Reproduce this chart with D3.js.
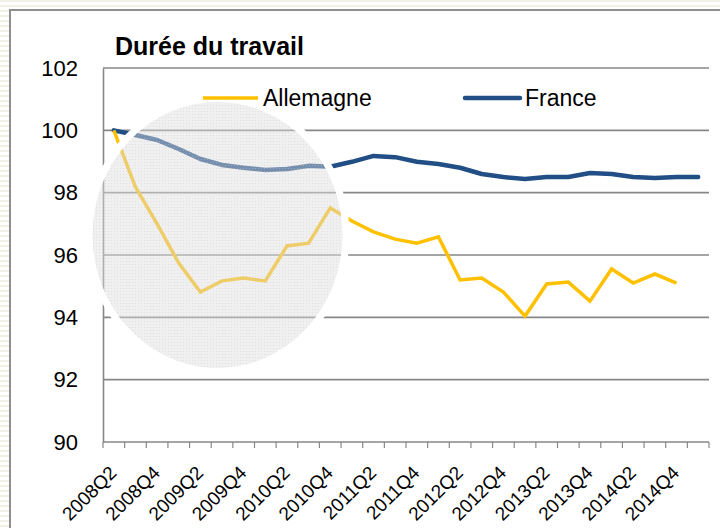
<!DOCTYPE html>
<html>
<head>
<meta charset="utf-8">
<script src="https://cdn.jsdelivr.net/npm/d3@7"></script>
<style>
  body { margin: 0; background: #fff; }
  svg { display: block; font-family: "Liberation Sans", Arial, sans-serif; }
</style>
</head>
<body>
<svg id="chart" width="720" height="528"></svg>
<script>
const quarters = [
  '2008Q2', '2008Q3', '2008Q4', '2009Q1', '2009Q2', '2009Q3', '2009Q4',
  '2010Q1', '2010Q2', '2010Q3', '2010Q4', '2011Q1', '2011Q2', '2011Q3',
  '2011Q4', '2012Q1', '2012Q2', '2012Q3', '2012Q4', '2013Q1', '2013Q2',
  '2013Q3', '2013Q4', '2014Q1', '2014Q2', '2014Q3', '2014Q4', '2015Q1'
];
const labelQuarters = [
  '2008Q2', '2008Q4', '2009Q2', '2009Q4', '2010Q2', '2010Q4', '2011Q2',
  '2011Q4', '2012Q2', '2012Q4', '2013Q2', '2013Q4', '2014Q2', '2014Q4'
];
const allemagne = [
  100, 98.18, 97.0, 95.74, 94.81, 95.17, 95.26, 95.17, 96.29, 96.38,
  97.51, 97.09, 96.74, 96.51, 96.38, 96.58, 95.2, 95.26, 94.81, 94.04,
  95.07, 95.13, 94.52, 95.55, 95.1, 95.39, 95.1
];
const france = [
  100, 99.85, 99.69, 99.4, 99.08, 98.89, 98.8, 98.73, 98.76, 98.86,
  98.83, 98.99, 99.18, 99.14, 98.99, 98.92, 98.8, 98.6, 98.5, 98.44,
  98.5, 98.5, 98.63, 98.6, 98.5, 98.47, 98.5, 98.5
];
const yTicks = [90, 92, 94, 96, 98, 100, 102];

const svg = d3.select('#chart');
const GREY = '#878787';
const YELLOW = '#ffc000';
const BLUE = '#224e86';

// striped backdrop outside the chart frame
const defs = svg.append('defs');
const stripes = defs.append('pattern')
  .attr('id', 'stripes').attr('patternUnits', 'userSpaceOnUse')
  .attr('width', 10).attr('height', 5);
stripes.append('rect').attr('width', 10).attr('height', 5).attr('fill', '#fff');
stripes.append('rect').attr('width', 10).attr('height', 2).attr('fill', '#f0f0e4');
svg.append('rect').attr('width', 720).attr('height', 528).attr('fill', 'url(#stripes)');

svg.append('rect')
  .attr('x', 10).attr('y', 10).attr('width', 720).attr('height', 530)
  .attr('fill', '#fff').attr('stroke', '#8f8f8f').attr('stroke-width', 2);

const x = d3.scaleBand().domain(quarters).range([103, 709]);
const y = d3.scaleLinear().domain([90, 102]).range([442, 68]);
const cx = q => x(q) + x.bandwidth() / 2;

// gridlines
svg.append('g')
  .selectAll('line').data(yTicks.filter(d => d > 90)).join('line')
  .attr('x1', 103).attr('x2', 709)
  .attr('y1', d => y(d)).attr('y2', d => y(d))
  .attr('stroke', GREY).attr('stroke-width', 1.6);

// y axis
const yAxis = svg.append('g')
  .attr('transform', 'translate(103,0)')
  .call(d3.axisLeft(y).tickValues(yTicks).tickSize(0).tickPadding(25));
yAxis.select('.domain').attr('stroke', GREY).attr('stroke-width', 1.6);
yAxis.selectAll('text').attr('font-size', 22).attr('fill', '#000')
  .attr('font-family', '"Liberation Sans", Arial, sans-serif');

// x axis with ticks at band edges
svg.append('line')
  .attr('x1', 103).attr('x2', 709).attr('y1', 442).attr('y2', 442)
  .attr('stroke', GREY).attr('stroke-width', 1.6);
const edges = quarters.map(q => x(q)).concat([x.range()[1]]);
svg.append('g').selectAll('line').data(edges).join('line')
  .attr('x1', d => d).attr('x2', d => d)
  .attr('y1', 442).attr('y2', 448)
  .attr('stroke', GREY).attr('stroke-width', 1.2);

svg.append('g').selectAll('text').data(labelQuarters).join('text')
  .attr('transform', q => `translate(${cx(q) + 4},${474}) rotate(-45)`)
  .attr('text-anchor', 'end')
  .attr('font-size', 19)
  .text(q => q);

// series
const line = d3.line()
  .x((d, i) => cx(quarters[i]))
  .y(d => y(d));

svg.append('path').datum(france)
  .attr('d', line).attr('fill', 'none')
  .attr('stroke', BLUE).attr('stroke-width', 4.5)
  .attr('stroke-linejoin', 'round').attr('stroke-linecap', 'round');

svg.append('path').datum(allemagne)
  .attr('d', line).attr('fill', 'none')
  .attr('stroke', YELLOW).attr('stroke-width', 3.5)
  .attr('stroke-linejoin', 'miter');

// lens overlay
const dots = defs.append('pattern')
  .attr('id', 'dots').attr('patternUnits', 'userSpaceOnUse')
  .attr('width', 3).attr('height', 3);
dots.append('rect').attr('width', 3).attr('height', 3).attr('fill', 'rgba(222,222,222,0.45)');
dots.append('rect').attr('width', 1).attr('height', 1).attr('fill', 'rgba(200,200,200,0.4)');
svg.append('ellipse')
  .attr('cx', 217.5).attr('cy', 235).attr('rx', 128.5).attr('ry', 136.5)
  .attr('fill', 'url(#dots)')
  .attr('stroke', '#fff').attr('stroke-width', 7);

// title
svg.append('text')
  .attr('x', 115).attr('y', 55)
  .attr('font-size', 25).attr('font-weight', 'bold')
  .text('Durée du travail');

// legend
const legend = [
  { name: 'Allemagne', color: YELLOW, x: 203, w: 3.5 },
  { name: 'France', color: BLUE, x: 465, w: 4.5 }
];
const lg = svg.append('g').selectAll('g').data(legend).join('g');
lg.append('line')
  .attr('x1', d => d.x).attr('x2', d => d.x + 55)
  .attr('y1', 98).attr('y2', 98)
  .attr('stroke', d => d.color).attr('stroke-width', d => d.w)
  .attr('stroke-linecap', d => d.name === 'France' ? 'round' : 'butt');
lg.append('text')
  .attr('x', d => d.x + 60).attr('y', 106)
  .attr('font-size', 23)
  .text(d => d.name);
</script>
</body>
</html>
